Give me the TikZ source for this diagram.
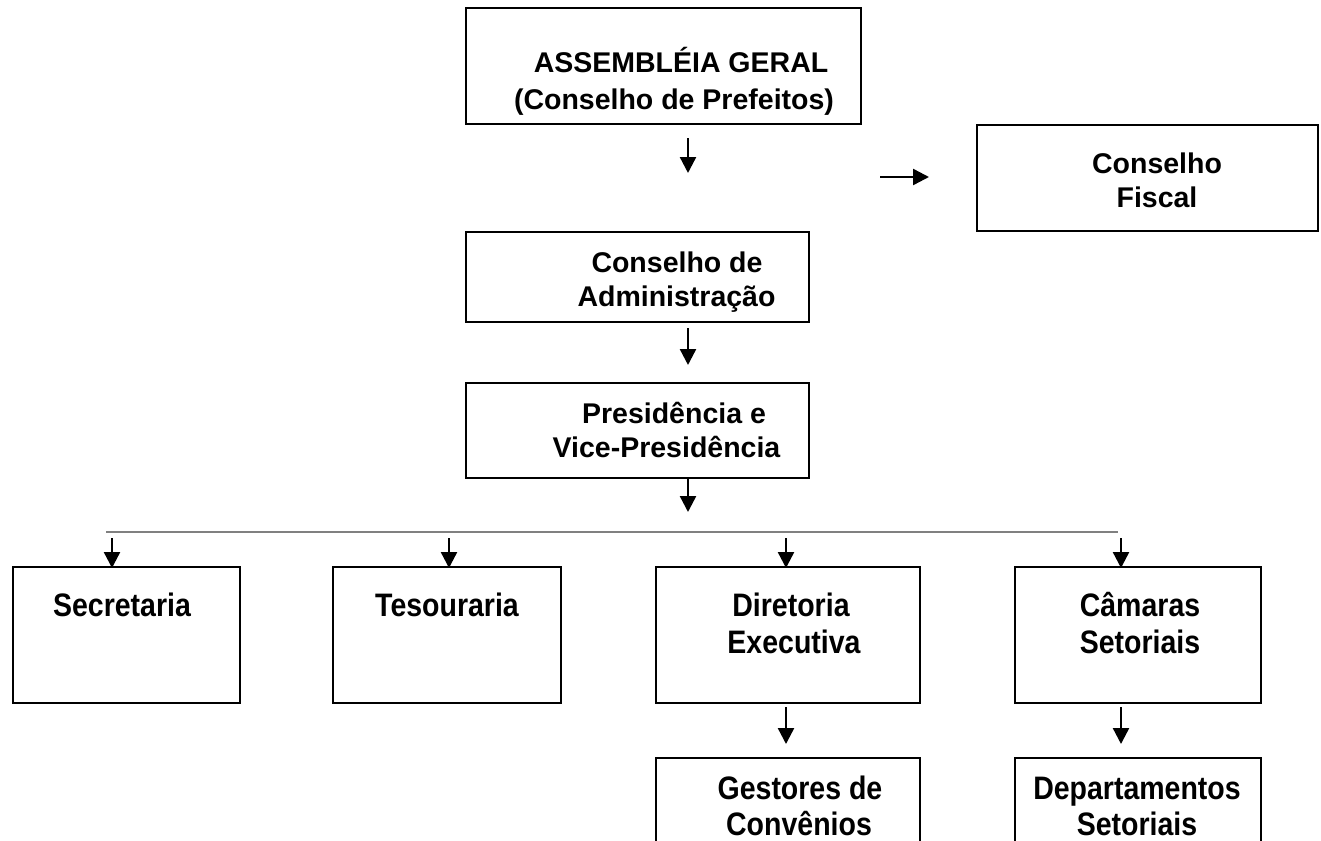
\documentclass[tikz,border=0pt]{standalone}
\usepackage{graphicx}
\usepackage{fontspec}
\setmainfont{Liberation Sans}
\usetikzlibrary{arrows.meta}
\newcommand{\tallx}[1]{\scalebox{1}[1.14]{#1}}
\tikzset{
  orgbox/.style={draw=black, line width=2.6pt, inner sep=0pt, outer sep=0pt, fill=none},
  lbl/.style={anchor=base, inner sep=0pt, font=\fontsize{28.5}{33}\selectfont\bfseries},
  arr/.style={line width=2.4pt, -{Triangle[length=16pt,width=16pt]}},
  rule/.style={draw=black!50, line width=1.3pt}
}
\begin{document}
\begin{tikzpicture}[x=1pt,y=-1pt]
\useasboundingbox (0,0) rectangle (1321,840);
\clip (0,0) rectangle (1321,840);
\fill[white] (0,0) rectangle (1321,840);

% boxes
\node[orgbox, minimum width=395pt, minimum height=116pt] (ag) at (663.5,66) {};
\node[orgbox, minimum width=341pt, minimum height=106pt] (cf) at (1147.5,178) {};
\node[orgbox, minimum width=343pt, minimum height=90pt] (ca) at (637.5,277) {};
\node[orgbox, minimum width=343pt, minimum height=95pt] (pr) at (637.5,430.5) {};
\node[orgbox, minimum width=227pt, minimum height=136pt] (se) at (126.5,635) {};
\node[orgbox, minimum width=228pt, minimum height=136pt] (te) at (447,635) {};
\node[orgbox, minimum width=264pt, minimum height=136pt] (de) at (788,635) {};
\node[orgbox, minimum width=246pt, minimum height=136pt] (cs) at (1138,635) {};
\node[orgbox, minimum width=264pt, minimum height=124pt] (gc) at (788,820) {};
\node[orgbox, minimum width=246pt, minimum height=124pt] (ds) at (1138,820) {};

% labels
\node[lbl] (ag1) at (681,73) {ASSEMBLÉIA GERAL};
\node[lbl] (ag2) at (674,110) {(Conselho de Prefeitos)};
\node[lbl] (cf1) at (1157,173) {Conselho};
\node[lbl] (cf2) at (1157,207) {Fiscal};
\node[lbl] (ca1) at (677,272) {Conselho de};
\node[lbl] (ca2) at (676.5,306) {Administração};
\node[lbl] (pr1) at (674,423) {Presidência e};
\node[lbl] (pr2) at (666.5,457) {Vice-Presidência};
\node[lbl] (se1) at (122,616) {\tallx{Secretaria}};
\node[lbl] (te1) at (447,616) {\tallx{Tesouraria}};
\node[lbl] (de1) at (791,616) {\tallx{Diretoria}};
\node[lbl] (de2) at (794,653) {\tallx{Executiva}};
\node[lbl] (cs1) at (1140,616) {\tallx{Câmaras}};
\node[lbl] (cs2) at (1140,653) {\tallx{Setoriais}};
\node[lbl] (gc1) at (800,799) {\tallx{Gestores de}};
\node[lbl] (gc2) at (799,835) {\tallx{Convênios}};
\node[lbl] (ds1) at (1137,799) {\tallx{Departamentos}};
\node[lbl] (ds2) at (1137,835) {\tallx{Setoriais}};

% connector end points
\coordinate (a1s) at (688,138);  \coordinate (a1e) at (688,173);
\coordinate (afs) at (880,177);  \coordinate (afe) at (929,177);
\coordinate (a2s) at (688,328);  \coordinate (a2e) at (688,365);
\coordinate (a3s) at (688,478);  \coordinate (a3e) at (688,512);
\coordinate (hl) at (106,532);   \coordinate (hr) at (1118,532);
\coordinate (b1s) at (112,538);  \coordinate (b1e) at (112,568);
\coordinate (b2s) at (449,538);  \coordinate (b2e) at (449,568);
\coordinate (b3s) at (786,538);  \coordinate (b3e) at (786,568);
\coordinate (b4s) at (1121,538); \coordinate (b4e) at (1121,568);
\coordinate (c1s) at (786,707);  \coordinate (c1e) at (786,744);
\coordinate (c2s) at (1121,707); \coordinate (c2e) at (1121,744);

\draw[arr] (a1s) -- (a1e);
\draw[arr] (afs) -- (afe);
\draw[arr] (a2s) -- (a2e);
\draw[arr] (a3s) -- (a3e);
\draw[rule] (hl) -- (hr);
\draw[arr] (b1s) -- (b1e);
\draw[arr] (b2s) -- (b2e);
\draw[arr] (b3s) -- (b3e);
\draw[arr] (b4s) -- (b4e);
\draw[arr] (c1s) -- (c1e);
\draw[arr] (c2s) -- (c2e);
\end{tikzpicture}
\end{document}
